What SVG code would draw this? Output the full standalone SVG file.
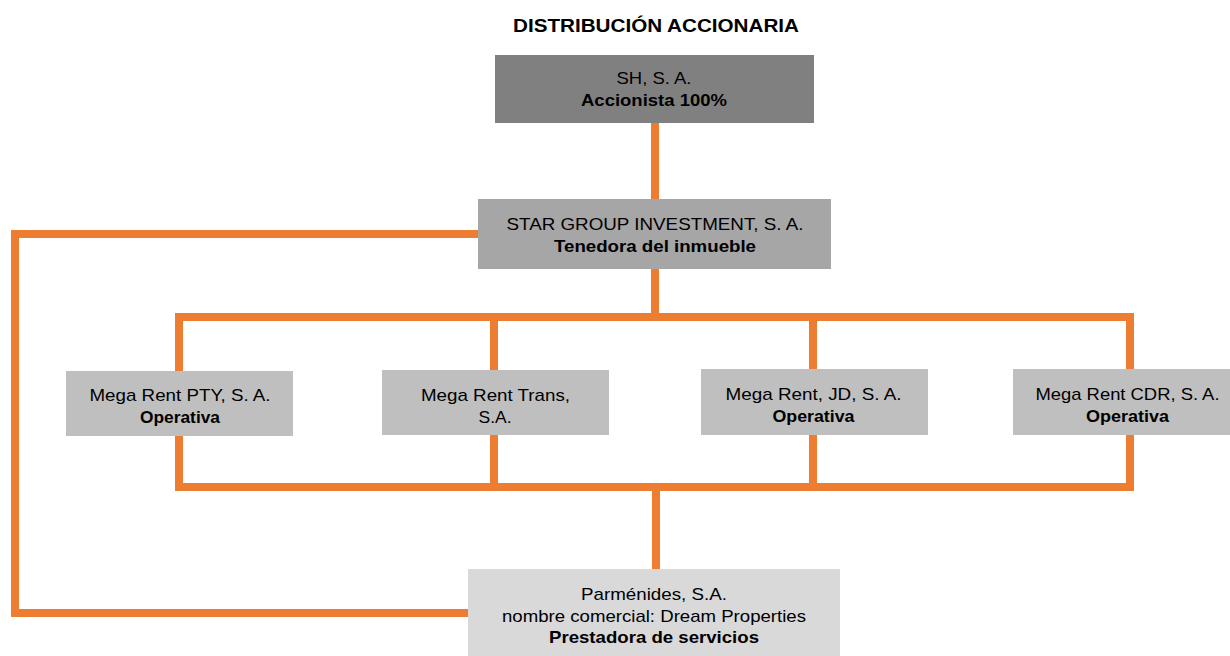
<svg xmlns="http://www.w3.org/2000/svg" width="1230" height="656" viewBox="0 0 1230 656">
<style>
text{font-family:"Liberation Sans",Arial,sans-serif;font-size:17px;fill:#000;text-anchor:middle}
.b{font-weight:bold}
.t{font-size:18.5px;font-weight:bold}
.c{fill:none;stroke:#ED7D31;stroke-width:8;stroke-linejoin:miter;stroke-linecap:butt}
</style>
<rect width="1230" height="656" fill="#fff"/>
<text class="t" x="656" y="32" textLength="286" lengthAdjust="spacingAndGlyphs">DISTRIBUCIÓN ACCIONARIA</text>
<g id="connectors">
<polyline class="c" points="655,120 655,317"/>
<polyline class="c" points="175,317 1134,317"/>
<polyline class="c" points="175,487 1134,487"/>
<polyline class="c" points="179,313 179,491"/>
<polyline class="c" points="494,317 494,487"/>
<polyline class="c" points="813,317 813,487"/>
<polyline class="c" points="1130,313 1130,491"/>
<polyline class="c" points="656,487 656,572"/>
<polyline class="c" points="482,234 15,234 15,613 472,613"/>
</g>
<g id="sh">
<rect x="495" y="55" width="319" height="68" fill="#808080"/>
<text x="654" y="84" textLength="75" lengthAdjust="spacingAndGlyphs">SH, S. A.</text>
<text class="b" x="654" y="106" textLength="146" lengthAdjust="spacingAndGlyphs">Accionista 100%</text>
</g>
<g id="star">
<rect x="478" y="199" width="353" height="70" fill="#A6A6A6"/>
<text x="655" y="230" textLength="297" lengthAdjust="spacingAndGlyphs">STAR GROUP INVESTMENT, S. A.</text>
<text class="b" x="655" y="252" textLength="202" lengthAdjust="spacingAndGlyphs">Tenedora del inmueble</text>
</g>
<g id="pty">
<rect x="66" y="371" width="227" height="65" fill="#BFBFBF"/>
<text x="180" y="401" textLength="181" lengthAdjust="spacingAndGlyphs">Mega Rent PTY, S. A.</text>
<text class="b" x="180" y="423" textLength="80" lengthAdjust="spacingAndGlyphs">Operativa</text>
</g>
<g id="trans">
<rect x="382" y="370" width="227" height="65" fill="#BFBFBF"/>
<text x="495.5" y="401" textLength="149" lengthAdjust="spacingAndGlyphs">Mega Rent Trans,</text>
<text x="495" y="423" textLength="33" lengthAdjust="spacingAndGlyphs">S.A.</text>
</g>
<g id="jd">
<rect x="701" y="369" width="227" height="66" fill="#BFBFBF"/>
<text x="813.5" y="400" textLength="176" lengthAdjust="spacingAndGlyphs">Mega Rent, JD, S. A.</text>
<text class="b" x="813.5" y="422" textLength="82" lengthAdjust="spacingAndGlyphs">Operativa</text>
</g>
<g id="cdr">
<rect x="1013" y="369" width="230" height="66" fill="#BFBFBF"/>
<text x="1127.5" y="400" textLength="184" lengthAdjust="spacingAndGlyphs">Mega Rent CDR, S. A.</text>
<text class="b" x="1127.5" y="422" textLength="83" lengthAdjust="spacingAndGlyphs">Operativa</text>
</g>
<g id="parmenides">
<rect x="468" y="569" width="372" height="90" fill="#D9D9D9"/>
<text x="654" y="600" textLength="146" lengthAdjust="spacingAndGlyphs">Parménides, S.A.</text>
<text x="654" y="622" textLength="304" lengthAdjust="spacingAndGlyphs">nombre comercial: Dream Properties</text>
<text class="b" x="654" y="643" textLength="210" lengthAdjust="spacingAndGlyphs">Prestadora de servicios</text>
</g>
</svg>
